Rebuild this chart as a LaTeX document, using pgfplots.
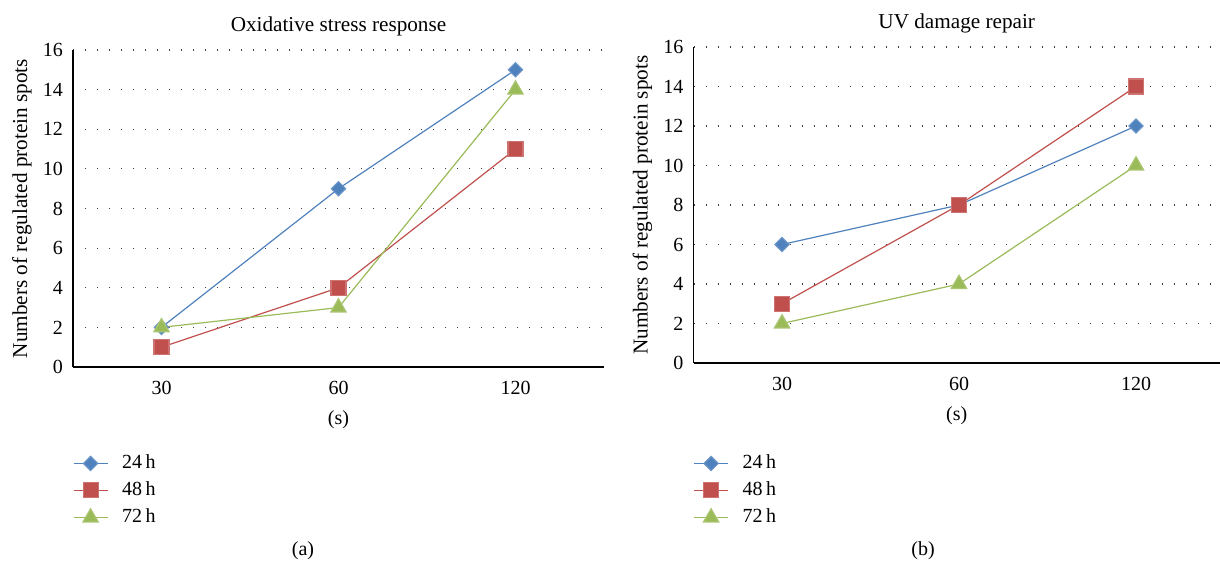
\documentclass[border=0pt]{standalone}
\usepackage{fontspec}
\setmainfont{Liberation Serif}
\usepackage{pgfplots}
\pgfplotsset{compat=1.18}
\definecolor{cblue}{HTML}{4F81BD}
\definecolor{cred}{HTML}{C0504D}
\definecolor{cgreen}{HTML}{9BBB59}
\newcommand{\fs}{\fontsize{10}{12}\selectfont}
\newcommand{\fsl}{\fontsize{10.6}{12}\selectfont}
\pgfplotsset{
  panel/.style={
    scale only axis,
    ymin=0, ymax=16, ytick={0,2,...,16},
    xmin=-0.5,
    xtick={0,1,2}, xticklabels={30,60,120},
    axis lines=left,
    axis line style={-, black, line width=0.6pt},
    major tick length=0pt,
    ymajorgrids,
    major grid style={black!75, line width=0.6pt, dash pattern=on 0.6pt off 5.4pt},
    tick label style={font=\fs},
    yticklabel style={xshift=-1.5pt},
    xticklabel style={yshift=-3.5pt},
    /pgf/number format/assume math mode=true,
    title style={at={(axis description cs:0.5,1)}, anchor=center, yshift=5.75pt, font=\fsl},
    ylabel style={at={(axis description cs:0,0.5)}, anchor=center, yshift=25.5pt, font=\fsl},
    xlabel style={at={(axis description cs:0.5,0)}, anchor=center, yshift=-26.5pt, font=\fs},
    legend cell align=left,
    legend style={at={(axis description cs:0,0)}, anchor=north west, yshift=-44pt,
      draw=none, fill=none, inner sep=0pt, outer sep=0pt, row sep=5pt, column sep=7pt,
      nodes={inner sep=0pt, font=\fs}},
    legend image code/.code={\draw[mark repeat=2,mark phase=2] plot coordinates {(0pt,0pt) (8.5pt,0pt) (17pt,0pt)};},
  },
  s24/.style={color=cblue, line width=0.6pt, mark=square*, mark size=2.5pt, mark options={rotate=45, fill=cblue, draw=cblue!85!white}},
  s48/.style={color=cred, line width=0.6pt, mark=square*, mark size=3.75pt, mark options={fill=cred, draw=cred!80!white}},
  s72/.style={color=cgreen, line width=0.6pt, mark=triangle*, mark size=4.4pt, mark options={fill=cgreen, draw=cgreen!85!white}},
}
\begin{document}
\begin{tikzpicture}
\useasboundingbox (0,0) rectangle (610pt,-280.5pt);
\begin{axis}[panel,
  at={(36.5pt,-183.5pt)}, anchor=south west,
  width=265.5pt, height=158.5pt, xmax=2.5,
  title={Oxidative stress response},
  ylabel={Numbers of regulated protein spots},
  xlabel={(s)}]
\addplot[s24] coordinates {(0,2) (1,9) (2,15)};
\addplot[s48] coordinates {(0,1) (1,4) (2,11)};
\addplot[s72] coordinates {(0,2) (1,3) (2,14)};
\legend{24\,h, 48\,h, 72\,h}
\end{axis}
\begin{axis}[panel,
  at={(346.75pt,-181.5pt)}, anchor=south west,
  width=263.25pt, height=158pt, xmax=2.4746,
  title={UV damage repair},
  ylabel={Numbers of regulated protein spots},
  xlabel={(s)},
  legend style={yshift=-2pt}]
\addplot[s24] coordinates {(0,6) (1,8) (2,12)};
\addplot[s48] coordinates {(0,3) (1,8) (2,14)};
\addplot[s72] coordinates {(0,2) (1,4) (2,10)};
\legend{24\,h, 48\,h, 72\,h}
\end{axis}
\node[font=\fs, inner sep=0pt] at (151.5pt,-275.5pt) {(a)};
\node[font=\fs, inner sep=0pt] at (461.5pt,-275.5pt) {(b)};
\end{tikzpicture}
\end{document}
